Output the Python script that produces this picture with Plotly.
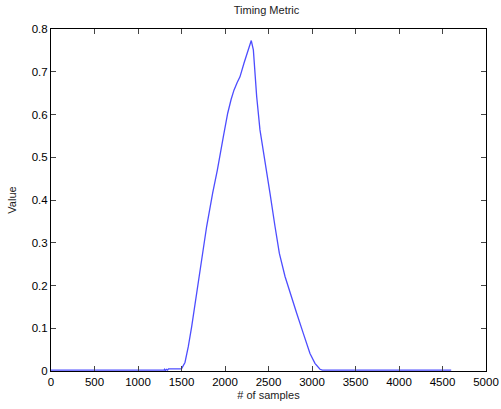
import plotly.graph_objects as go

samples = [0, 1300, 1305, 1315, 1325, 1340, 1350, 1420, 1500, 1540, 1578, 1617, 1674, 1732, 1789,
           1858, 1912, 1981, 2031, 2070, 2103, 2140, 2172, 2218, 2260, 2295, 2302, 2326, 2364,
           2402, 2441, 2479, 2517, 2575, 2625, 2690, 2747, 2824, 2900, 2977, 3034, 3092, 3120,
           3200, 3300, 3450, 3600, 4000, 4600]
values = [0.002, 0.002, 0.004, 0.001, 0.004, 0.002, 0.005, 0.005, 0.005, 0.02, 0.057, 0.104, 0.182, 0.26, 0.338,
          0.416, 0.47, 0.548, 0.603, 0.635, 0.657, 0.675, 0.688, 0.72, 0.745, 0.767, 0.773, 0.751, 0.642,
          0.564, 0.517, 0.47, 0.416, 0.338, 0.275, 0.221, 0.182, 0.135, 0.088, 0.041, 0.018, 0.004, 0.002,
          0.002, 0.002, 0.002, 0.002, 0.002, 0.002]

x_ticks = [0, 500, 1000, 1500, 2000, 2500, 3000, 3500, 4000, 4500, 5000]
y_ticks = [0, 0.1, 0.2, 0.3, 0.4, 0.5, 0.6, 0.7, 0.8]

font = "Liberation Sans, Arial, sans-serif"

fig = go.Figure(go.Scatter(x=samples, y=values, mode="lines",
                           line=dict(color="#4d4dff", width=1.3)))

fig.update_layout(
    width=501, height=409,
    margin=dict(l=51, r=15, t=29, b=38),
    paper_bgcolor="white", plot_bgcolor="white",
    showlegend=False,
    font=dict(family=font, size=11, color="black"),
    title=dict(text="Timing Metric", x=0.532, xanchor="center", y=1 - 10 / 409,
               yanchor="middle", font=dict(size=11, color="#222222", family=font)),
)
axis_common = dict(showline=True, linecolor="black", linewidth=1, mirror="allticks",
                   ticks="inside", ticklen=5, tickcolor="#444444", showgrid=False,
                   zeroline=False, automargin=False,
                   tickfont=dict(size=11.5, family=font, color="black"))
fig.update_xaxes(range=[0, 5000], tickvals=x_ticks, ticktext=[str(v) for v in x_ticks],
                 title=dict(text="# of samples", standoff=4, font=dict(size=11, color="#222222")), **axis_common)
fig.update_yaxes(range=[0, 0.8], tickvals=y_ticks, ticktext=["0" if v == 0 else f"{v:.1f}" for v in y_ticks],
                 title=dict(text="Value", standoff=12, font=dict(size=11, color="#222222")), **axis_common)

fig.write_html("out.html", config={"displayModeBar": False},
               post_script="document.body.style.margin='0';")
